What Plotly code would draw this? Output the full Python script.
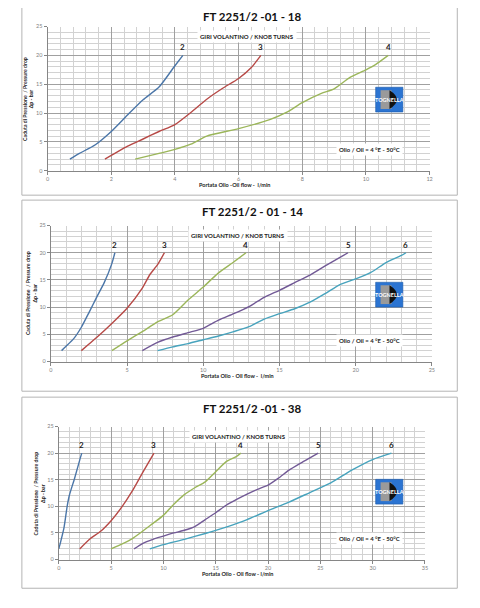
import plotly.graph_objects as go

W, H = 480, 608
OFF = 8  # the page body margin shifts the figure by this many pixels

# ---- data (x = flow l/min, y = pressure drop bar) ----
# FT 2251/2 -01 - 18
p1_x2 = [0.7, 1.0, 1.5, 2.0, 2.5, 3.0, 3.5, 4.0, 4.25]
p1_y2 = [2, 3, 4.5, 6.8, 9.6, 12.3, 14.5, 18.2, 20]
p1_x3 = [1.8, 2.5, 3.0, 3.5, 4.0, 4.5, 5.0, 5.5, 6.0, 6.4, 6.7]
p1_y3 = [2, 4.2, 5.5, 6.8, 8.0, 10.1, 12.4, 14.3, 16.0, 17.9, 20]
p1_x4 = [2.75, 3.5, 4.0, 4.5, 5.0, 6.0, 7.0, 7.5, 8.0, 8.6, 9.0, 9.5, 10.0, 10.3, 10.7]
p1_y4 = [2, 3.0, 3.7, 4.6, 6.0, 7.3, 8.9, 10.1, 11.8, 13.4, 14.2, 16.2, 17.5, 18.4, 20]

# FT 2251/2 - 01 - 14
p2_x2 = [0.7, 1.0, 1.5, 2.0, 2.5, 3.0, 3.5, 4.0, 4.2]
p2_y2 = [2, 2.8, 4.2, 6.3, 9.0, 11.8, 14.5, 18.0, 20]
p2_x3 = [2, 3, 4, 5, 6, 6.5, 7, 7.45]
p2_y3 = [2, 4.4, 7.0, 9.8, 13.5, 16.0, 17.8, 20]
p2_x4 = [4, 5, 6, 7, 8, 9, 10, 11, 12, 12.8]
p2_y4 = [2, 3.8, 5.5, 7.3, 8.6, 11.3, 13.7, 16.3, 18.3, 20]
p2_x5 = [6, 7, 8, 9, 10, 11, 12, 13, 14, 15, 16, 17, 18, 19, 19.5]
p2_y5 = [2, 3.5, 4.5, 5.3, 6.1, 7.6, 8.8, 10.1, 11.8, 13.1, 14.5, 15.9, 17.6, 19.2, 20]
p2_x6 = [7, 8, 9, 10, 11, 12, 13, 14, 15, 16, 17, 18, 19, 20, 21, 22, 23, 23.3]
p2_y6 = [2, 2.7, 3.3, 4.0, 4.7, 5.5, 6.4, 7.8, 8.8, 9.7, 10.9, 12.5, 14.2, 15.2, 16.4, 18.2, 19.5, 20]

# FT 2251/2 -01 - 38
p3_x2 = [0, 0.2, 0.5, 0.8, 1.0, 1.5, 2.0, 2.2]
p3_y2 = [2, 3.5, 6.0, 10.0, 12.0, 15.2, 18.7, 20]
p3_x3 = [2, 3, 4, 5, 6, 7, 8, 9.1]
p3_y3 = [2, 3.9, 5.3, 7.3, 9.8, 12.8, 16.3, 20]
p3_x4 = [5, 6, 7, 8, 9, 10, 11, 12, 13, 14, 15, 16, 17, 17.4]
p3_y4 = [2, 2.9, 3.9, 5.3, 6.8, 8.3, 10.4, 12.2, 13.5, 14.6, 16.5, 18.4, 19.4, 20]
p3_x5 = [7.2, 8, 9, 10, 11, 12, 13, 14, 15, 16, 17, 18, 19, 20, 21, 22, 23, 24, 24.8]
p3_y5 = [2, 3.0, 3.8, 4.4, 5.0, 5.5, 6.2, 7.5, 8.8, 10.2, 11.3, 12.3, 13.2, 14.0, 15.3, 16.8, 18.0, 19.1, 20]
p3_x6 = [8.7, 10, 12, 14, 16, 18, 20, 22, 24, 26, 28, 30, 31.8]
p3_y6 = [2, 2.8, 3.8, 4.9, 6.1, 7.5, 9.2, 10.8, 12.6, 14.4, 16.8, 18.8, 20]

titles = ["FT 2251/2 -01 - 18", "FT 2251/2 - 01 - 14", "FT 2251/2 -01 - 38"]
x_titles = ["Portata Olio -Oil flow -  l/min", "Portata Olio - Oil flow -  l/min",
            "Portata Olio - Oil flow - l/min"]
y_title = "Caduta di Pressione  / Pressure drop<br>Δp - bar"
note = "Olio / Oil = 4 °E - 50°C"
turns = "GIRI VOLANTINO / KNOB TURNS"

colors = {"2": "#4b76a8", "3": "#b74a47", "4": "#9bb65a", "5": "#725a96", "6": "#47a3bd"}

panels = [
    {"series": {"2": (p1_x2, p1_y2), "3": (p1_x3, p1_y3), "4": (p1_x4, p1_y4)},
     "xmax": 12, "dtick": 2, "minor": 0.4,
     "plot": (46, 432, 23.7, 169.3), "box": (20, 460, 2, 194), "turns_x": 247},
    {"series": {"2": (p2_x2, p2_y2), "3": (p2_x3, p2_y3), "4": (p2_x4, p2_y4),
                "5": (p2_x5, p2_y5), "6": (p2_x6, p2_y6)},
     "xmax": 25, "dtick": 5, "minor": 1,
     "plot": (49.3, 434.3, 224.7, 362), "box": (20, 460, 199, 392), "turns_x": 238},
    {"series": {"2": (p3_x2, p3_y2), "3": (p3_x3, p3_y3), "4": (p3_x4, p3_y4),
                "5": (p3_x5, p3_y5), "6": (p3_x6, p3_y6)},
     "xmax": 35, "dtick": 5, "minor": 1,
     "plot": (57.3, 427.3, 427.7, 562), "box": (20, 460, 398, 591), "turns_x": 239},
]

FONT = "Lato, 'Open Sans', sans-serif"


def px(x):
    return (x - OFF) / W


def py(y):
    return 1 - (y - OFF) / H


def label(x, y, text, size, **kw):
    d = dict(x=px(x), y=py(y), xref="paper", yref="paper", text=text, showarrow=False,
             xanchor="center", yanchor="middle",
             font=dict(size=size, color="#222", family=FONT))
    d.update(kw)
    return d


fig = go.Figure()
layout = {}
annotations = []
shapes = []

for i, p in enumerate(panels):
    n = "" if i == 0 else str(i + 1)
    xa, ya = "x" + n, "y" + n
    x0, x1, y0, y1 = p["plot"]
    bx0, bx1, by0, by1 = p["box"]

    for name, (xs, ys) in p["series"].items():
        fig.add_trace(go.Scatter(x=xs, y=ys, mode="lines", name=name, xaxis=xa, yaxis=ya,
                                 line=dict(color=colors[name], width=1.4, shape="spline",
                                           smoothing=0.6),
                                 showlegend=False, hoverinfo="skip"))
        # turn number above the end of each curve
        annotations.append(dict(x=xs[-1], y=ys[-1], xref=xa, yref=ya, text="<b>%s</b>" % name,
                                showarrow=False, xanchor="center", yanchor="bottom", yshift=1,
                                font=dict(size=8, color="#222", family=FONT)))

    axis_common = dict(showline=True, linecolor="#868686", linewidth=1, ticks="outside",
                       ticklen=3, tickcolor="#868686", showgrid=True, gridcolor="#a0a0a0",
                       gridwidth=0.8, zeroline=False,
                       tickfont=dict(size=5.5, color="#7f7f7f", family=FONT))
    layout["xaxis" + n] = dict(axis_common, domain=[px(x0), px(x1)], anchor=ya,
                               range=[0, p["xmax"]], dtick=p["dtick"],
                               minor=dict(dtick=p["minor"], showgrid=True,
                                          gridcolor="#d2d2d2", gridwidth=0.7))
    layout["yaxis" + n] = dict(axis_common, domain=[py(y1), py(y0)], anchor=xa,
                               range=[0, 25], dtick=5,
                               minor=dict(dtick=1, showgrid=True,
                                          gridcolor="#d2d2d2", gridwidth=0.7))

    # outer frame of the panel
    shapes.append(dict(type="rect", xref="paper", yref="paper", x0=px(bx0), x1=px(bx1),
                       y0=py(by1), y1=py(by0), line=dict(color="#b4b4b4", width=1)))

    # chart title
    annotations.append(label(253, by0 + 11.5, "<b>%s</b>" % titles[i], 11.5,
                             font=dict(size=11.5, color="#111", family=FONT)))
    # knob turns caption
    annotations.append(label(p["turns_x"], y0 + 10.5, "<b>%s</b>" % turns, 6,
                             bgcolor="white", borderpad=2))
    # oil note
    annotations.append(label(371, y1 - 21, "<b>%s</b>" % note, 6,
                             bgcolor="white", borderpad=2))
    # axis titles
    annotations.append(label((x0 + x1) / 2 - 4, y1 + 14.5, "<b>%s</b>" % x_titles[i], 5.5))
    annotations.append(label(x0 - 19.5, (y0 + y1) / 2, "<b>%s</b>" % y_title, 5.2,
                             textangle=-90))

    # company logo badge
    lx0, ly0 = 377.5, by0 + 83
    lx1, ly1 = lx0 + 27.5, ly0 + 25
    shapes.append(dict(type="rect", xref="paper", yref="paper", x0=px(lx0), x1=px(lx1),
                       y0=py(ly1), y1=py(ly0), fillcolor="#2b74d2",
                       line=dict(color="#1c5aa8", width=0.6)))
    shapes.append(dict(type="rect", xref="paper", yref="paper", x0=px(lx0 + 5), x1=px(lx0 + 16),
                       y0=py(ly1 - 3), y1=py(ly0 + 3), fillcolor="#9a9a9a", line_width=0))
    shapes.append(dict(type="path", xref="paper", yref="paper",
                       path="M %f %f L %f %f Q %f %f %f %f Z" % (
                           px(lx0 + 14), py(ly0 + 3), px(lx0 + 14), py(ly1 - 3),
                           px(lx0 + 29), py(ly0 + 12.5), px(lx0 + 14), py(ly0 + 3)),
                       fillcolor="#111", line_width=0))
    annotations.append(label((lx0 + lx1) / 2, (ly0 + ly1) / 2, "<b>TOGNELLA</b>", 5.5,
                             font=dict(size=5.5, color="white", family=FONT)))

fig.update_layout(width=W, height=H, margin=dict(l=0, r=0, t=0, b=0),
                  paper_bgcolor="white", plot_bgcolor="white",
                  annotations=annotations, shapes=shapes, **layout)

fig.write_html("out.html")
